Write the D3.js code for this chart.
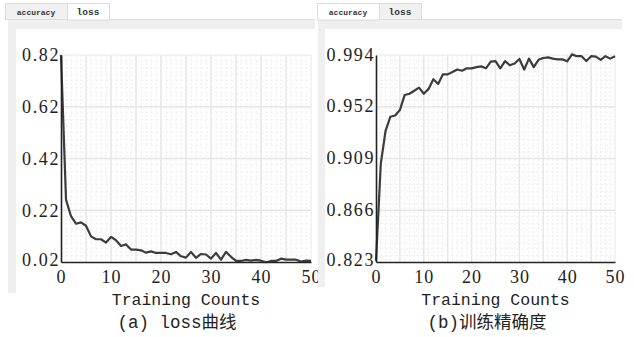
<!DOCTYPE html>
<html><head><meta charset="utf-8">
<script src="https://cdn.jsdelivr.net/npm/d3@7"></script>
<style>
html,body{margin:0;padding:0;background:#fff;}
svg{display:block;}
</style></head>
<body>
<svg id="c" width="634" height="337"></svg>
<script>
const epochs = d3.range(0, 51);
const lossValues = [0.82,0.261,0.197,0.168,0.173,0.160,0.119,0.108,0.108,0.095,
  0.117,0.104,0.082,0.088,0.068,0.068,0.065,0.056,0.061,0.055,
  0.055,0.055,0.050,0.059,0.042,0.037,0.059,0.036,0.051,0.049,
  0.033,0.055,0.029,0.059,0.040,0.024,0.024,0.028,0.025,0.028,
  0.025,0.019,0.024,0.024,0.033,0.029,0.029,0.029,0.022,0.025,0.024];
const accValues = [0.824,0.904,0.9314,0.943,0.944,0.9485,0.961,0.962,0.9645,0.967,
  0.962,0.966,0.974,0.970,0.978,0.978,0.980,0.982,0.981,0.983,
  0.983,0.984,0.9846,0.983,0.9885,0.989,0.983,0.989,0.9855,0.987,
  0.9907,0.982,0.991,0.984,0.990,0.9915,0.992,0.991,0.9904,0.9904,
  0.9888,0.9945,0.993,0.993,0.989,0.993,0.9926,0.990,0.993,0.991,0.993];
const xTickValues = [0,10,20,30,40,50];
const lossTickValues = [0.02,0.22,0.42,0.62,0.82];
const lossTickLabels = ["0.02","0.22","0.42","0.62","0.82"];
const accTickValues = [0.823,0.866,0.909,0.952,0.994];
const accTickLabels = ["0.823","0.866","0.909","0.952","0.994"];
const xLabel = "Training Counts";
const captions = ["(a) loss曲线", "(b)训练精确度"];
const tabNames = ["accuracy", "loss"];

const svg = d3.select("#c");
const mono = "'Liberation Mono','DejaVu Sans Mono',monospace";
const serif = "'Liberation Serif','DejaVu Serif',serif";
const capFont = "'Liberation Mono','Noto Sans CJK SC',monospace";

function panel(o) {
  const g = svg.append("g");
  g.append("rect").attr("x", o.px).attr("y", 20).attr("width", o.pw).attr("height", o.ph)
    .attr("fill", "#efefef");
  g.append("rect").attr("x", o.cx).attr("y", 29).attr("width", o.px + o.pw - o.cx).attr("height", o.ph + 1)
    .attr("fill", "#ffffff");
  g.append("line").attr("x1", o.tabX).attr("x2", o.px + o.pw).attr("y1", 19.5).attr("y2", 19.5)
    .attr("stroke", "#dcdcdc");
  let tx = o.tabX;
  tabNames.forEach((t, i) => {
    const w = i === 0 ? 62 : 42;
    const active = i === o.active;
    g.append("rect").attr("x", tx + 0.5).attr("y", 3.5).attr("width", w).attr("height", active ? 16.5 : 16)
      .attr("fill", active ? "#ffffff" : "#f1f1f1").attr("stroke", "#dcdcdc");
    g.append("text").attr("x", tx + w / 2).attr("y", 15).attr("text-anchor", "middle")
      .attr("font-family", mono).attr("font-size", i === 0 ? 8 : 9.5)
      .attr("font-weight", "bold").attr("fill", "#333").text(t);
    tx += w;
  });

  const x = d3.scaleLinear().domain([0, 50]).range([o.x0, o.x1]);
  const y = d3.scaleLinear().domain(o.domain).range([o.y1, o.y0]);

  const grid = g.append("g");
  d3.range(1, 50).forEach(v => {
    grid.append("line").attr("x1", x(v)).attr("x2", x(v)).attr("y1", o.y0).attr("y2", o.y1)
      .attr("stroke", v % 5 === 0 ? "#e6e6e6" : "#ececec")
      .attr("stroke-width", v % 5 === 0 ? 1.5 : 1)
      .attr("stroke-dasharray", v % 5 === 0 ? null : "2,2");
  });
  const step = (o.domain[1] - o.domain[0]) / 32;
  d3.range(1, 32).forEach(k => {
    const v = o.domain[0] + k * step;
    const major = k % 8 === 0;
    grid.append("line").attr("x1", o.x0).attr("x2", o.x1).attr("y1", y(v)).attr("y2", y(v))
      .attr("stroke", major ? "#e6e6e6" : "#efefef")
      .attr("stroke-width", major ? 1.5 : 1)
      .attr("stroke-dasharray", major ? null : "2,3");
  });
  grid.append("line").attr("x1", o.x0).attr("x2", o.x1).attr("y1", o.y0).attr("y2", o.y0)
    .attr("stroke", "#e6e6e6");
  grid.append("line").attr("x1", o.x1).attr("x2", o.x1).attr("y1", o.y0).attr("y2", o.y1)
    .attr("stroke", "#e6e6e6");

  const line = d3.line().x((d, i) => x(epochs[i])).y(d => y(d));
  g.append("path").datum(o.values).attr("d", line).attr("fill", "none")
    .attr("stroke", "#3c3c3c").attr("stroke-width", 2.2).attr("stroke-linejoin", "round");

  const xAxis = d3.axisBottom(x).tickValues(xTickValues).tickSize(0).tickPadding(8).tickFormat(d3.format("d"));
  const gx = g.append("g").attr("transform", `translate(0,${o.y1})`).call(xAxis);
  gx.select(".domain").attr("stroke", "#222").attr("stroke-width", 1.6);
  gx.selectAll("text").attr("font-family", serif).attr("font-size", 18).attr("fill", "#222")
    .attr("letter-spacing", "1px");

  const yAxis = d3.axisLeft(y).tickValues(o.tickValues).tickSize(0).tickPadding(1)
    .tickFormat((d, i) => o.tickLabels[i]);
  const gy = g.append("g").attr("transform", `translate(${o.x0},0)`).call(yAxis);
  gy.select(".domain").attr("stroke", "#222").attr("stroke-width", 1.6);
  gy.selectAll("text").attr("font-family", serif).attr("font-size", 18).attr("fill", "#222")
    .attr("letter-spacing", "1.6px");
  // keep the bottom y label just above the x tick row
  gy.selectAll(".tick text").filter((d, i) => i === 0).attr("dy", "0.2em");

  svg.append("text").attr("x", (o.x0 + o.x1) / 2).attr("y", 305).attr("text-anchor", "middle")
    .attr("font-family", mono).attr("font-size", 16.5).attr("fill", "#222").text(xLabel);
  svg.append("text").attr("x", o.capX).attr("y", 328).attr("text-anchor", "middle")
    .attr("font-family", capFont).attr("font-size", 17.5).attr("fill", "#222").text(o.caption);
}

panel({px: 8, pw: 307, ph: 273, cx: 16, tabX: 5, active: 1,
  x0: 61, x1: 311, y0: 55, y1: 262, domain: [0.02, 0.82], values: lossValues,
  tickValues: lossTickValues, tickLabels: lossTickLabels, caption: captions[0], capX: 177});
panel({px: 318, pw: 304, ph: 267, cx: 325, tabX: 317, active: 0,
  x0: 376, x1: 615, y0: 55, y1: 262, domain: [0.823, 0.994], values: accValues,
  tickValues: accTickValues, tickLabels: accTickLabels, caption: captions[1], capX: 487});
</script>
</body></html>
